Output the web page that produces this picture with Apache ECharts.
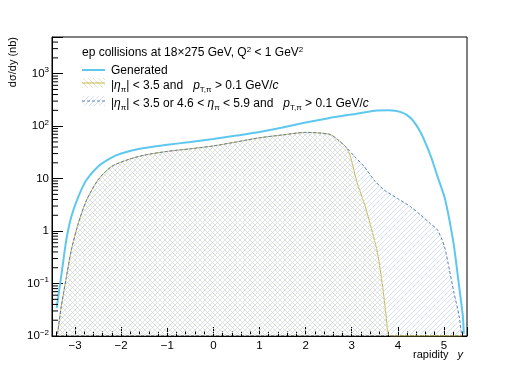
<!DOCTYPE html>
<html>
<head>
<meta charset="utf-8">
<script src="https://cdn.jsdelivr.net/npm/echarts@6/dist/echarts.min.js"></script>
<style>html,body{margin:0;padding:0;background:#fff}#main{width:518px;height:374px}</style>
</head>
<body>
<div id="main"></div>
<script>
// dsigma/dy vs rapidity
var genX = [-3.40, -3.33, -3.26, -3.19, -3.08, -2.93, -2.75, -2.50, -2.21, -2.00, -1.60, -1.00, -0.50, 0.00, 0.50, 1.00, 1.50, 2.00, 2.50, 3.00, 3.50, 3.80, 4.07, 4.28, 4.50, 4.72, 4.86, 5.01, 5.12, 5.22, 5.33, 5.41, 5.43];
var genV = [0.034, 0.09, 0.25, 0.68, 1.9, 4.5, 9.5, 17, 25, 30, 37, 44, 50, 57, 66, 77, 94, 117, 142, 167, 196, 200, 185, 143, 74, 26, 11, 4.5, 1.6, 0.5, 0.087, 0.024, 0.011];

var accX = [-3.38, -3.30, -3.19, -3.08, -2.93, -2.75, -2.50, -2.21, -1.85, -1.50, -1.00, -0.50, 0.00, 0.50, 1.00, 1.50, 2.00, 2.30, 2.54, 2.70, 2.83, 2.90, 2.98, 3.12, 3.27, 3.38, 3.56, 3.67, 3.74, 3.79, 3.85, 5.40];
var accV = [0.011, 0.036, 0.13, 0.44, 1.4, 3.9, 9.5, 17, 23, 28, 33, 37, 42, 50, 60, 68, 76, 74, 69, 55, 44, 37, 25, 8.2, 3.4, 1.6, 0.38, 0.087, 0.027, 0.011, 0.01, 0.01];

var wideX = [-3.38, -3.30, -3.19, -3.08, -2.93, -2.75, -2.50, -2.21, -1.85, -1.50, -1.00, -0.50, 0.00, 0.50, 1.00, 1.50, 2.00, 2.30, 2.54, 2.70, 2.90, 3.05, 3.27, 3.48, 3.70, 3.99, 4.28, 4.50, 4.70, 4.86, 5.01, 5.12, 5.22, 5.33, 5.38];
var wideV = [0.011, 0.036, 0.13, 0.44, 1.4, 3.9, 9.5, 17, 23, 28, 33, 37, 42, 50, 60, 68, 76, 74, 69, 55, 38, 27, 17, 9.5, 6.1, 4.2, 2.9, 2.0, 1.4, 1.05, 0.51, 0.18, 0.065, 0.024, 0.011];

var yTicks = [0.01, 0.1, 1, 10, 100, 1000];
var yTickLabels = ['{b|10}{s|\u22122}', '{b|10}{s|\u22121}', '{b|1}', '{b|10}', '{b|10}{s|2}', '{b|10}{s|3}'];

var FONT = 'Liberation Sans';
var xMin = -3.5, xMax = 5.5, yMin = 0.01, yMax = 5000;

function pairs(xs, vs) {
    return xs.map(function (x, i) { return [x, vs[i]]; });
}

// minor ticks of the log axis at 2..9 x 10^k
function logMinor() {
    var out = [];
    for (var k = -2; k <= 3; k++) {
        for (var m = 2; m <= 9; m++) {
            var v = m * Math.pow(10, k);
            if (v < yMax) out.push([xMin, v]);
        }
    }
    return out;
}

function hatch(color, dir) {
    var s = 5;
    var c = document.createElement('canvas');
    c.width = s; c.height = s;
    var g = c.getContext('2d');
    g.strokeStyle = color;
    g.lineWidth = 0.8;
    g.beginPath();
    if (dir > 0) {
        g.moveTo(0, s); g.lineTo(s, 0);
        g.moveTo(-1, 1); g.lineTo(1, -1);
        g.moveTo(s - 1, s + 1); g.lineTo(s + 1, s - 1);
    } else {
        g.moveTo(0, 0); g.lineTo(s, s);
        g.moveTo(-1, s - 1); g.lineTo(1, s + 1);
        g.moveTo(s - 1, -1); g.lineTo(s + 1, 1);
    }
    g.stroke();
    return {image: c, repeat: 'repeat'};
}

var cGen = '#5ec7ee', cAcc = '#c9b743', cWide = '#5a80bf';
var hAcc = hatch('#e0dcc0', -1), hWide = hatch('#cbd9ee', 1);

var supRich = {
    t: {fontFamily: FONT, fontSize: 12, color: '#000'},
    i: {fontFamily: FONT, fontSize: 12, fontStyle: 'italic', color: '#000'},
    s: {fontFamily: FONT, fontSize: 8, color: '#000', padding: [0, 0, 7, 0]},
    u: {fontFamily: FONT, fontSize: 8, color: '#000', padding: [7, 0, 0, 0]}
};

var myChart = echarts.init(document.getElementById('main'));
var option = {
    backgroundColor: '#fff',
    animation: false,
    grid: {left: 52, right: 51, top: 37, bottom: 38, show: true, borderColor: '#000', borderWidth: 1, backgroundColor: 'transparent'},
    xAxis: {
        type: 'value', min: xMin, max: xMax, splitNumber: 9,
        axisLine: {onZero: false, lineStyle: {color: '#000', width: 1}},
        axisTick: {inside: true, length: 9, lineStyle: {color: '#000'}},
        minorTick: {show: true, splitNumber: 5, length: 4.5, lineStyle: {color: '#000'}},
        splitLine: {show: false},
        axisLabel: {
            margin: 4, fontFamily: FONT, fontSize: 11.5, color: '#000',
            formatter: function (v) {
                if (Math.abs(v - Math.round(v)) > 1e-6) return '';
                return String(Math.round(v)).replace('-', '\u2212');
            }
        }
    },
    yAxis: {
        type: 'log', logBase: 10, min: yMin, max: yMax,
        axisLine: {show: true, onZero: false, lineStyle: {color: '#000', width: 1}},
        axisTick: {inside: true, length: 11, lineStyle: {color: '#000'}},
        splitLine: {show: false},
        axisLabel: {
            margin: 3, color: '#000',
            rich: {
                b: {fontFamily: FONT, fontSize: 11.5, color: '#000'},
                s: {fontFamily: FONT, fontSize: 8, color: '#000', padding: [0, 0, 7, 0]}
            },
            formatter: function (v) {
                for (var i = 0; i < yTicks.length; i++) {
                    if (Math.abs(Math.log10(v) - Math.log10(yTicks[i])) < 1e-6) return yTickLabels[i];
                }
                return '';
            }
        }
    },
    series: [
        {
            name: 'acc', type: 'line', data: pairs(accX, accV), showSymbol: false, symbol: 'none',
            smooth: 0.25, clip: true, z: 3,
            lineStyle: {color: cAcc, width: 1},
            areaStyle: {color: hAcc, origin: 'start', opacity: 1}
        },
        {
            name: 'wide', type: 'line', data: pairs(wideX, wideV), showSymbol: false, symbol: 'none',
            smooth: 0.25, clip: true, z: 4,
            lineStyle: {color: cWide, width: 1, type: [3, 2]},
            areaStyle: {color: hWide, origin: 'start', opacity: 1}
        },
        {
            name: 'gen', type: 'line', data: pairs(genX, genV), showSymbol: false, symbol: 'none',
            smooth: 0.25, clip: true, z: 5,
            lineStyle: {color: cGen, width: 2}
        },
        {
            name: 'minorTicks', type: 'custom', data: logMinor(), silent: true, clip: false, z: 6,
            renderItem: function (params, api) {
                var p = api.coord([api.value(0), api.value(1)]);
                return {type: 'line', shape: {x1: p[0], y1: p[1], x2: p[0] + 6, y2: p[1]}, style: {stroke: '#000', lineWidth: 1}};
            }
        }
    ],
    graphic: [
        {type: 'text', x: 13, y: 37, rotation: Math.PI / 2,
            style: {text: 'd\u03c3/dy (nb)', fontFamily: FONT, fontSize: 11, fill: '#000', align: 'right', verticalAlign: 'middle'}},
        {type: 'text', x: 463, y: 355,
            style: {text: '{t|rapidity}{y|y}', align: 'right', verticalAlign: 'middle',
                rich: {t: {fontFamily: FONT, fontSize: 11, fill: '#000'}, y: {fontFamily: FONT, fontSize: 11, fontStyle: 'italic', fill: '#000', padding: [0, 0, 0, 9]}}}},
        {type: 'text', x: 82, y: 53, z: 10,
            style: {text: '{t|ep collisions at 18\u00d7275 GeV, Q}{s|2}{t| < 1 GeV}{s|2}', align: 'left', verticalAlign: 'middle', rich: supRich}},
        {type: 'line', z: 10, shape: {x1: 82, y1: 70, x2: 105, y2: 70}, style: {stroke: cGen, lineWidth: 2}},
        {type: 'text', x: 111, y: 70.5, z: 10,
            style: {text: '{t|Generated}', align: 'left', verticalAlign: 'middle', rich: supRich}},
        {type: 'rect', z: 10, shape: {x: 82, y: 78, width: 23, height: 10}, style: {fill: hAcc}},
        {type: 'line', z: 10, shape: {x1: 82, y1: 83, x2: 105, y2: 83}, style: {stroke: cAcc, lineWidth: 1}},
        {type: 'text', x: 111, y: 86, z: 10,
            style: {text: '{t||}{i|\u03b7}{u|\u03c0}{t||}{t| < 3.5 and   }{i|p}{u|T,\u03c0}{t| > 0.1 GeV/}{i|c}', align: 'left', verticalAlign: 'middle', rich: supRich}},
        {type: 'rect', z: 10, shape: {x: 82, y: 96, width: 23, height: 10}, style: {fill: hWide}},
        {type: 'line', z: 10, shape: {x1: 82, y1: 101, x2: 105, y2: 101}, style: {stroke: cWide, lineWidth: 1, lineDash: [3, 2]}},
        {type: 'text', x: 111, y: 104, z: 10,
            style: {text: '{t||}{i|\u03b7}{u|\u03c0}{t||}{t| < 3.5 or 4.6 < }{i|\u03b7}{u|\u03c0}{t| < 5.9 and   }{i|p}{u|T,\u03c0}{t| > 0.1 GeV/}{i|c}', align: 'left', verticalAlign: 'middle', rich: supRich}}
    ]
};
myChart.setOption(option);
</script>
</body>
</html>
